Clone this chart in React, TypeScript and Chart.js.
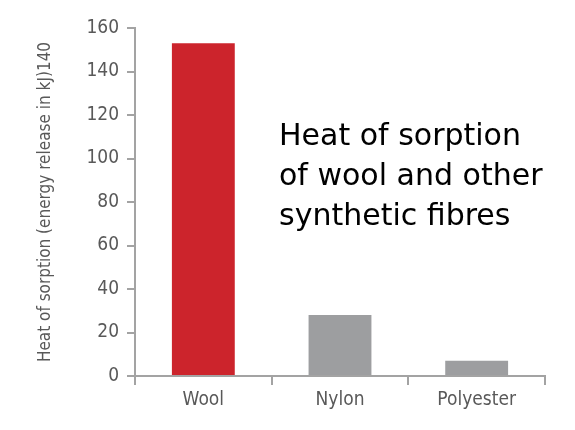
import { useEffect, useRef } from "react";
import { Chart, registerables } from "chart.js";

Chart.register(...registerables);

const fibres = ["Wool", "Nylon", "Polyester"];
const heatOfSorption = [153, 28, 7];
const barColors = ["#cc242c", "#9d9ea0", "#9d9ea0"];
const yTicks = [0, 20, 40, 60, 80, 100, 120, 140, 160];
const yTitle = "Heat of sorption (energy release in kJ)140";
const noteLines = ["Heat of sorption", "of wool and other", "synthetic fibres"];

const narrow = "'Liberation Sans Narrow', 'DejaVu Sans Condensed', sans-serif";
const axisGray = "#a3a3a3";
const textGray = "#595959";

export default function App() {
  const canvasRef = useRef<HTMLCanvasElement>(null);
  const chartRef = useRef<Chart | null>(null);

  useEffect(() => {
    if (!canvasRef.current) return;

    chartRef.current?.destroy();
    chartRef.current = new Chart(canvasRef.current, {
      type: "bar",
      data: {
        labels: fibres,
        datasets: [
          {
            data: heatOfSorption,
            backgroundColor: barColors,
            borderWidth: 0,
            barPercentage: 0.92,
            categoryPercentage: 0.5,
          },
        ],
      },
      options: {
        animation: false,
        responsive: true,
        maintainAspectRatio: false,
        layout: { padding: { top: 28, right: 30, bottom: 0, left: 0 } },
        plugins: {
          legend: { display: false },
          tooltip: { enabled: false },
        },
        scales: {
          x: {
            afterFit: (s: any) => {
              s.height = 54;
            },
            grid: {
              offset: true,
              drawOnChartArea: false,
              color: axisGray,
              lineWidth: 2,
              tickLength: 9,
            },
            border: { color: axisGray, width: 2 },
            ticks: {
              color: textGray,
              font: { family: narrow, size: 19 },
              padding: 4,
            },
          },
          y: {
            min: 0,
            max: 160,
            afterFit: (s: any) => {
              s.width = 135;
            },
            afterBuildTicks: (s: any) => {
              s.ticks = yTicks.map((v) => ({ value: v }));
            },
            grid: {
              drawOnChartArea: false,
              color: axisGray,
              lineWidth: 2,
              tickLength: 8,
            },
            border: { color: axisGray, width: 2 },
            ticks: {
              color: textGray,
              font: { family: narrow, size: 19 },
              padding: 8,
            },
            title: {
              display: true,
              text: yTitle,
              color: textGray,
              font: { family: narrow, size: 17 },
              padding: { top: 35, bottom: 0 },
            },
          },
        },
      },
    });

    return () => {
      chartRef.current?.destroy();
    };
  }, []);

  return (
    <div
      style={{
        position: "absolute",
        left: 0,
        top: 0,
        width: "575px",
        height: "430px",
        background: "#ffffff",
      }}
    >
      <canvas ref={canvasRef} />
      <div
        style={{
          position: "absolute",
          left: "279px",
          top: "115px",
          fontFamily: "'DejaVu Sans', sans-serif",
          fontSize: "30px",
          lineHeight: "40px",
          color: "#000000",
          whiteSpace: "nowrap",
        }}
      >
        {noteLines.map((line) => (
          <div key={line}>{line}</div>
        ))}
      </div>
    </div>
  );
}
